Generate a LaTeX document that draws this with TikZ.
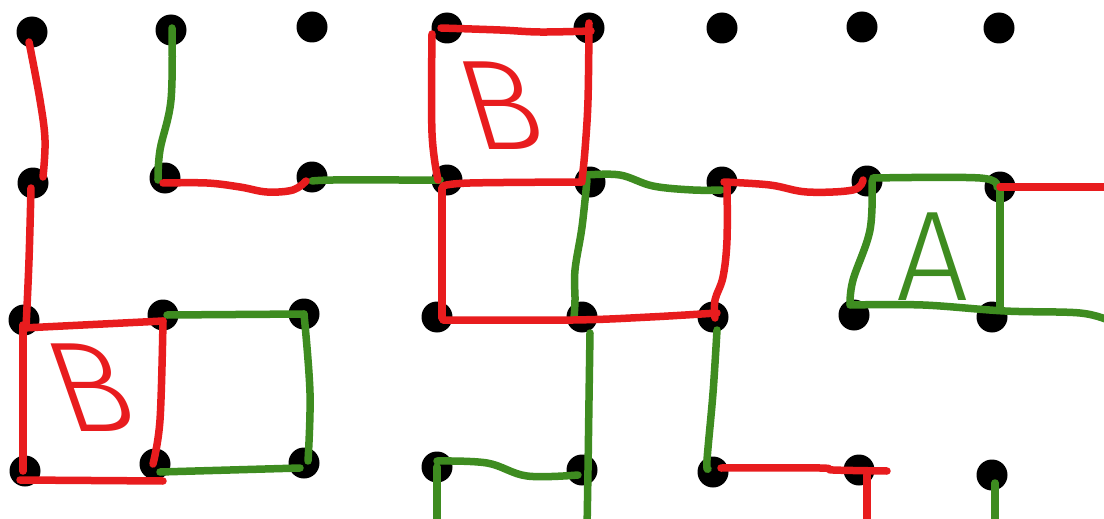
\documentclass[tikz,border=0pt]{standalone}
\usepackage{fontspec}
\newfontfamily\hand{Fira Sans Light}
\usetikzlibrary{calc}
\definecolor{hred}{RGB}{232,28,30}
\definecolor{hgreen}{RGB}{62,140,32}
\begin{document}
\begin{tikzpicture}[x=1pt,y=-1pt,
  dot/.style={circle,fill=black,inner sep=0pt,minimum size=31pt},
  rl/.style={draw=hred,line width=7.5pt,line cap=round,line join=round},
  gl/.style={draw=hgreen,line width=7.5pt,line cap=round,line join=round},
  lett/.style={inner sep=0pt,font=\hand\fontsize{128}{128}\selectfont}]
\useasboundingbox (0,0) rectangle (1104,519);
\fill[white] (0,0) rectangle (1104,519);
\clip (0,0) rectangle (1104,519);
% dots
\node[dot] (d00) at (32,32) {};
\node[dot] (d10) at (171,30) {};
\node[dot] (d20) at (312,27) {};
\node[dot] (d30) at (447,28) {};
\node[dot] (d40) at (589,28) {};
\node[dot] (d50) at (722,28) {};
\node[dot] (d60) at (862,27) {};
\node[dot] (d70) at (999,28) {};
\node[dot] (d01) at (33,183) {};
\node[dot] (d11) at (165,178) {};
\node[dot] (d21) at (312,177) {};
\node[dot] (d31) at (447,180) {};
\node[dot] (d41) at (590,182) {};
\node[dot] (d51) at (722,182) {};
\node[dot] (d61) at (867,181) {};
\node[dot] (d71) at (1000,187) {};
\node[dot] (d02) at (24,320) {};
\node[dot] (d12) at (163,315) {};
\node[dot] (d22) at (304,314) {};
\node[dot] (d32) at (437,317) {};
\node[dot] (d42) at (582,317) {};
\node[dot] (d52) at (713,317) {};
\node[dot] (d62) at (854,315) {};
\node[dot] (d72) at (992,317) {};
\node[dot] (d03) at (25,471) {};
\node[dot] (d13) at (155,464) {};
\node[dot] (d23) at (304,463) {};
\node[dot] (d33) at (437,467) {};
\node[dot] (d43) at (582,470) {};
\node[dot] (d53) at (713,472) {};
\node[dot] (d63) at (859,470) {};
\node[dot] (d73) at (992,475) {};
% free ends beyond the frame
\coordinate (e1) at (1110,187);
\coordinate (e2) at (1110,321);
\coordinate (e3) at (587,530);
\coordinate (e4) at (437,530);
\coordinate (e5) at (867,530);
\coordinate (e6) at (995,530);
\coordinate (e7) at (887,471);
% green strokes
\draw[gl] plot[smooth,tension=0.6] coordinates {($(d10)+(1,-2)$) (171,100) (160,150) ($(d11)+(-7,2)$)};
\draw[gl] plot[smooth,tension=0.6] coordinates {($(d21)+(0,4)$) (333,180) (400,180) ($(d31)+(-7,0)$)};
\draw[gl] plot[smooth,tension=0.6] coordinates {($(d41)+(-3,-7)$) (620,175) (653,186) (693,190) ($(d51)+(-1,8)$)};
\draw[gl] plot[smooth,tension=0.6] coordinates {($(d41)+(-3,-2)$) (582,227) (575,270) (575,300) ($(d42)+(-8,1)$)};
\draw[gl] plot[smooth,tension=0.6] coordinates {($(d42)+(8,16)$) (589,400) (588,470) (e3)};
\draw[gl] plot[smooth,tension=0.6] coordinates {($(d52)+(4,13)$) (713,393) (707,460) ($(d53)+(-5,-3)$)};
\draw[gl] plot[smooth,tension=0.6] coordinates {($(d33)+(0,-6)$) (487,463) (527,476) ($(d43)+(-4,5)$)};
\draw[gl] (d33.center) -- (e4);
\draw[gl] ($(d73)+(3,8)$) -- (e6);
% green box
\draw[gl] ($(d12)+(4,0)$) -- (d22.center);
\draw[gl] plot[smooth,tension=0.6] coordinates {(d22.center) (310,393) ($(d23)+(4,-2)$)};
\draw[gl] ($(d13)+(5,8)$) -- ($(d23)+(-4,5)$);
% green box A
\draw[gl] plot[smooth,tension=0.6] coordinates {($(d61)+(6,-3)$) (980,178) ($(d71)+(-3,0)$)};
\draw[gl] plot[smooth,tension=0.6] coordinates {($(d61)+(5,0)$) (870,230) (853,280) ($(d62)+(-4,-11)$)};
\draw[gl] ($(d71)+(0,3)$) -- ($(d72)+(8,-10)$);
\draw[gl] plot[smooth,tension=0.6] coordinates {($(d62)+(-4,-10)$) (923,305) (1005,311) (1080,313) (e2)};
% red strokes
\draw[rl] plot[smooth,tension=0.6] coordinates {($(d00)+(-3,10)$) (40,100) (45,140) ($(d01)+(10,-6)$)};
\draw[rl] plot[smooth,tension=0.6] coordinates {($(d01)+(-2,5)$) (29,260) ($(d02)+(2,8)$)};
\draw[rl] plot[smooth,tension=0.6] coordinates {($(d11)+(-2,5)$) (207,183) (240,187) (267,192) (293,190) ($(d21)+(-6,4)$)};
% box B
\draw[rl] plot[smooth,tension=0.6] coordinates {($(d30)+(-6,0)$) (500,30) (540,32) ($(d40)+(2,3)$)};
\draw[rl] plot[smooth,tension=0.6] coordinates {($(d30)+(-15,6)$) (432,133) ($(d31)+(-9,0)$)};
\draw[rl] plot[smooth,tension=0.6] coordinates {($(d40)+(0,-5)$) (588,100) (585,150) ($(d41)+(-8,-2)$)};
\draw[rl] plot[smooth,tension=0.6] coordinates {($(d31)+(-4,6)$) (470,183) ($(d41)+(-8,0)$)};
\draw[rl] ($(d31)+(-5,8)$) -- ($(d32)+(5,1)$);
% right part
\draw[rl] plot[smooth,tension=0.6] coordinates {($(d51)+(5,1)$) (727,240) (723,277) (715,300) ($(d52)+(2,1)$)};
\draw[rl] plot[smooth,tension=0.6] coordinates {($(d51)+(2,0)$) (770,185) (807,192) (853,190) ($(d61)+(-4,-1)$)};
\draw[rl] (d71.center) -- (e1);
\draw[rl] plot[smooth,tension=0.6] coordinates {($(d32)+(6,3)$) (573,320) (650,317) ($(d52)+(4,-4)$)};
\draw[rl] plot[smooth,tension=0.6] coordinates {($(d53)+(8,-4)$) (820,468) (833,470) (e7)};
\draw[rl] ($(d63)+(8,5)$) -- (e5);
% box 6
\draw[rl] ($(d02)+(-1,8)$) -- ($(d12)+(0,6)$);
\draw[rl] ($(d02)+(-1,5)$) -- ($(d03)+(-2,0)$);
\draw[rl] plot[smooth,tension=0.6] coordinates {($(d12)+(0,6)$) (160,420) ($(d13)+(-2,0)$)};
\draw[rl] ($(d03)+(-5,9)$) -- ($(d13)+(8,17)$);
% letters
\node[lett,text=hred,xslant=-0.3] (lb1) at (501,106) {B};
\node[lett,text=hgreen] (la) at (933,257) {A};
\node[lett,text=hred,xslant=-0.35] (lb2) at (90,388) {B};
\end{tikzpicture}
\end{document}
